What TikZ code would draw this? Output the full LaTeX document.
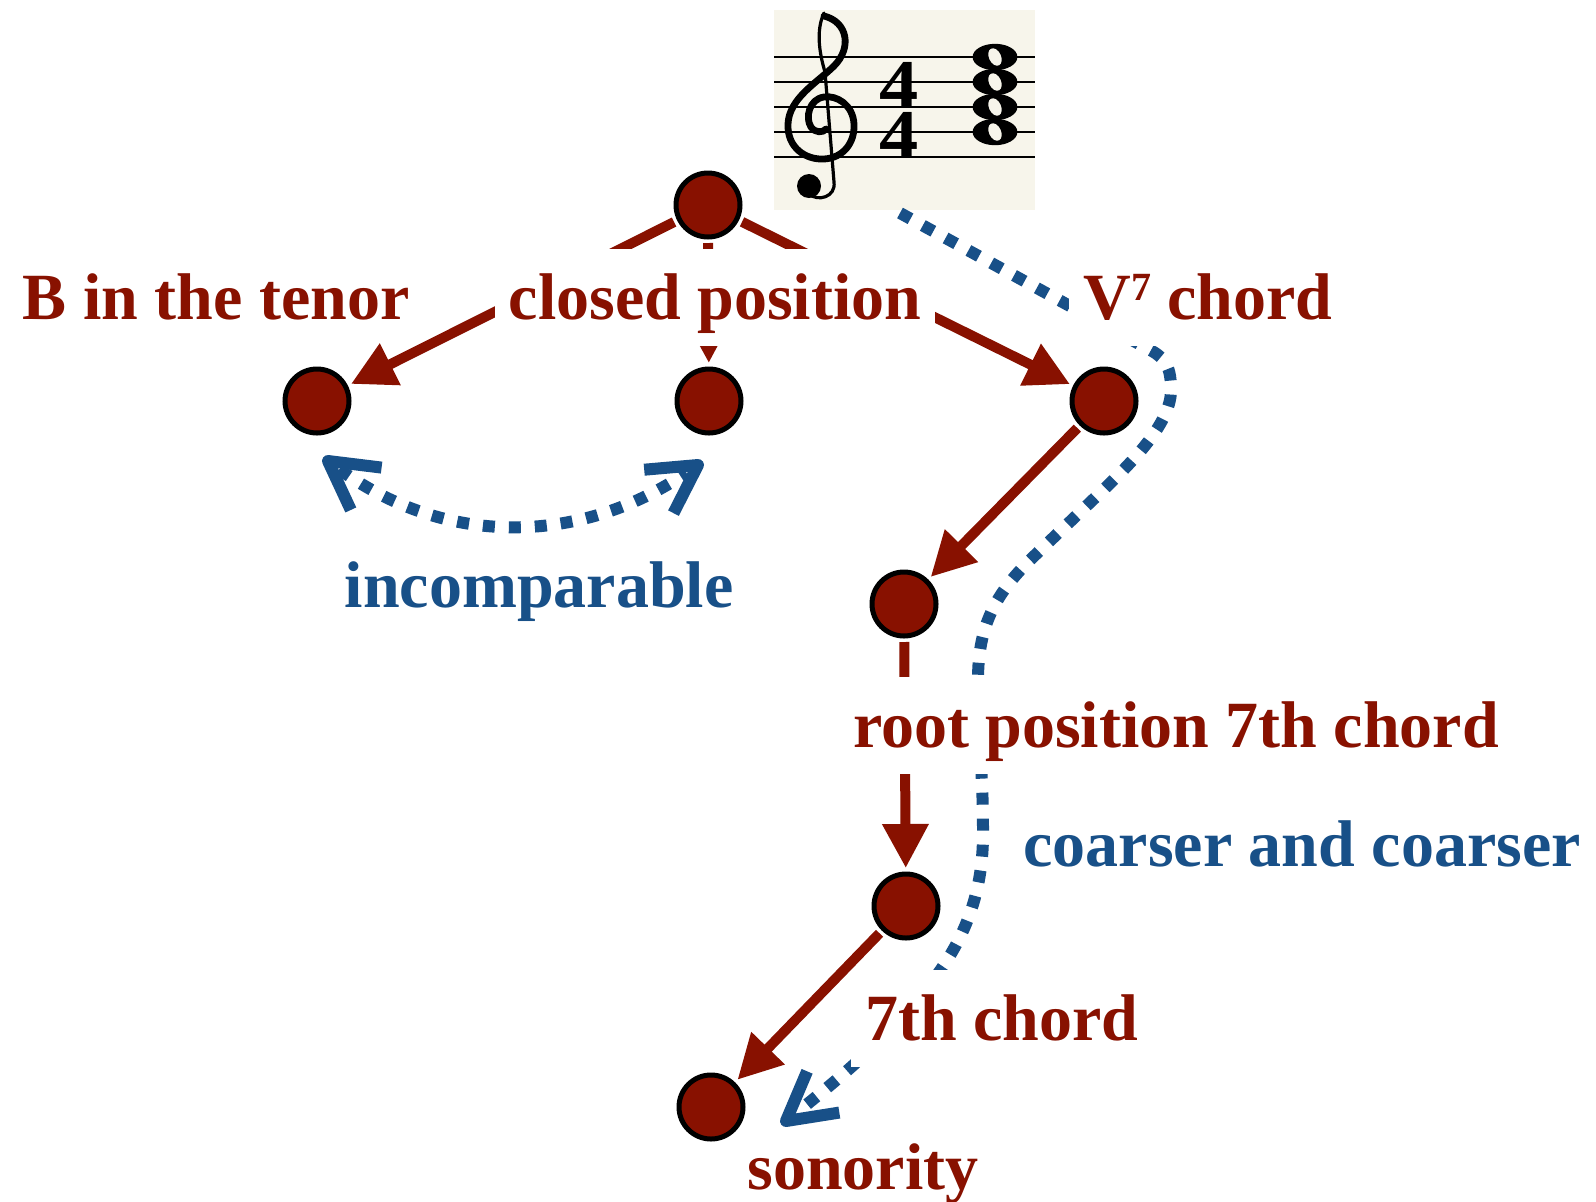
\documentclass[tikz,border=0pt]{standalone}
\usepackage{fontspec}
\setmainfont{Liberation Serif}
\usetikzlibrary{arrows.meta,calc}
\definecolor{dred}{RGB}{136,17,0}
\definecolor{dblue}{RGB}{24,80,136}
\definecolor{paper}{RGB}{247,245,235}
\begin{document}
\begin{tikzpicture}[x=0.5pt,y=-0.5pt,
  dot/.style={circle,fill=dred,draw=black,line width=2.5pt,minimum size=32pt,inner sep=0pt,outer sep=3pt},
  redarrow/.style={draw=dred,line width=5pt,arrows={-Triangle[length=22pt,width=22pt]}},
  bluedot/.style={draw=dblue,line width=6pt,dash pattern=on 6pt off 7pt},
  chevron/.style={draw=dblue,line width=6pt,line join=round,line cap=butt},
  lbl/.style={font=\fontsize{33}{40}\selectfont\bfseries,text=dred,anchor=base,inner sep=0pt},
  cover/.style={fill=white,inner xsep=7pt,inner ysep=6pt,text height=29pt,text depth=7.5pt},
  bluelbl/.style={lbl,text=dblue},
  staffline/.style={draw=black,line width=0.7pt},
  clefline/.style={draw=black,line width=3.4pt,line cap=round,line join=round},
  digits/.style={font=\fontsize{35}{25}\selectfont\bfseries,align=center,inner sep=0pt,xscale=1.12},
]
\useasboundingbox (0,0) rectangle (1596,1201);
\fill[white] (0,0) rectangle (1596,1201);

% ---- music staff ----
\fill[paper] (774,10) rectangle (1035,210);
\foreach \yy in {57,82,107,132,157} \draw[staffline] (774,\yy) -- (1035,\yy);
% treble clef
\draw[clefline] (824,16) .. controls (848,22) and (852,48) .. (834,66)
  .. controls (818,82) and (789,98) .. (788,124)
  .. controls (787,148) and (806,160) .. (824,159)
  .. controls (843,158) and (855,143) .. (854,124)
  .. controls (853,105) and (837,95) .. (824,97)
  .. controls (809,99) and (805,118) .. (811,127)
  .. controls (815,133) and (823,133) .. (826,129);
\draw[black,line width=1.6pt,line cap=round] (824,13) .. controls (816,30) and (819,52) .. (825,72)
  -- (834,182) .. controls (836,197) and (818,202) .. (809,194);
\fill[black] (809,186) circle[radius=6pt];
% time signature
\node[digits] (ts) at (899,110) {4\\4};
% whole notes
\foreach \yy in {57,82,107,132} \fill[black] (995,\yy) ellipse[x radius=11.2pt,y radius=6.6pt];
\foreach \yy in {57,82,107,132} \fill[paper] (995,\yy) ellipse[x radius=3pt,y radius=4.6pt,rotate=25];

% ---- nodes ----
\node[dot] (T)  at (708,205) {};
\node[dot] (L)  at (317,401) {};
\node[dot] (M)  at (709,401) {};
\node[dot] (R)  at (1104,401) {};
\node[dot] (RP) at (904,604) {};
\node[dot] (SC) at (906,906) {};
\node[dot] (S)  at (711,1107) {};

% ---- red connectors ----
\draw[redarrow] (T) -- (L);
\draw[redarrow] (T) -- (M);
\draw[redarrow] (T) -- (R);
\draw[redarrow] (R) -- (RP);
\draw[redarrow] (RP) -- (SC);
\draw[redarrow] (SC) -- (S);

% ---- blue connectors ----
\coordinate (incL) at ($(L)+(11,60)$);
\coordinate (incR) at ($(M)+(-11,64)$);
\draw[bluedot,shorten <=7pt,shorten >=7pt] (incL) to[out=-36,in=-146] (incR);
\draw[chevron] ($(incL)+(-7:27pt)$) -- (incL) -- ($(incL)+(-65:27pt)$);
\draw[chevron] ($(incR)+(185:27pt)$) -- (incR) -- ($(incR)+(243:27pt)$);

\coordinate (vs) at (900,213);
\coordinate (ve) at (786,1121);
\draw[bluedot,shorten >=7pt] (vs) -- (1152,351)
  .. controls (1166,359) and (1171,368) .. (1171,390)
  .. controls (1171,420) and (1140,455) .. (1100,493)
  -- (1030,560)
  .. controls (996,594) and (978,625) .. (978,680)
  .. controls (978,740) and (983,770) .. (983,830)
  .. controls (984,920) and (945,975) .. (880,1040)
  .. controls (855,1065) and (825,1090) .. (ve);
\draw[chevron] ($(ve)+(67:27pt)$) -- (ve) -- ($(ve)+(9:27pt)$);

% ---- labels ----
\node[lbl] (btenor) at (216,319) {B in the tenor};
\node[lbl,cover] (closed) at (715,319) {closed position};
\node[lbl,cover] (vchord) at (1208,319) {V\raisebox{9.5pt}{\fontsize{20}{20}\selectfont 7} chord};
\node[bluelbl] (incomp) at (539,607) {incomparable};
\node[lbl,cover] (rootpos) at (1176,747) {root position 7th chord};
\node[bluelbl] (coarser) at (1302,866) {coarser and coarser};
\node[lbl,cover] (seventh) at (1002,1040) {7th chord};
\node[lbl] (sonor) at (863,1189) {sonority};
\end{tikzpicture}
\end{document}
